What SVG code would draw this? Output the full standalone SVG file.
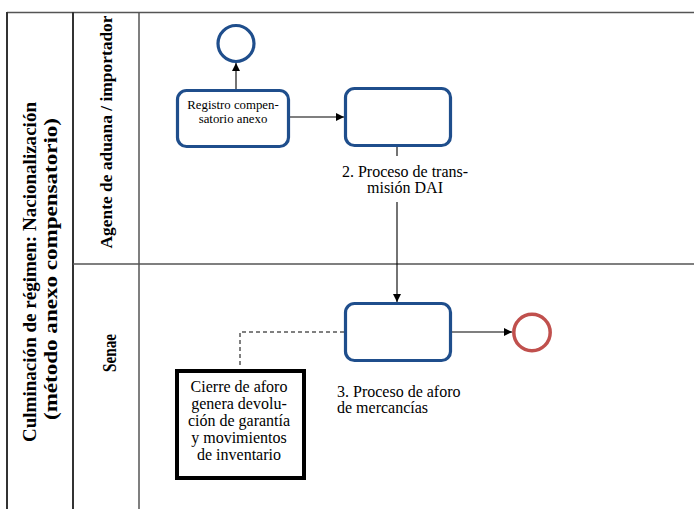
<svg xmlns="http://www.w3.org/2000/svg" width="694" height="509" viewBox="0 0 694 509">
<defs>
<style>
.frame{stroke:#555;stroke-width:1.5;fill:none}
.frameDark{stroke:#333;stroke-width:2;fill:none}
.task{fill:#fff;stroke:#1f4e8c;stroke-width:3.2}
.start{fill:#fff;stroke:#1f4e8c;stroke-width:3.2}
.end{fill:#fff;stroke:#c0504d;stroke-width:3.5}
.flow{stroke:#000;stroke-width:1.1;fill:none}
.dash{stroke:#000;stroke-width:1;fill:none;stroke-dasharray:4 3}
.note{fill:#fff;stroke:#000;stroke-width:4}
.t{font-family:"Liberation Serif","Times New Roman",serif;fill:#000}
.lane{font-family:"Liberation Serif","Times New Roman",serif;font-weight:bold;fill:#000}
</style>
<marker id="arr" viewBox="0 0 10 10" refX="10" refY="5" markerWidth="8" markerHeight="8" markerUnits="userSpaceOnUse" orient="auto">
<path d="M0,0 L10,5 L0,10 z" fill="#000"/>
</marker>
</defs>

<g id="pool">
<line class="frame" x1="7" y1="12.5" x2="694" y2="12.5"/>
<line class="frameDark" x1="7" y1="12" x2="7" y2="509"/>
<line class="frameDark" x1="73" y1="12" x2="73" y2="509"/>
<line class="frame" x1="139" y1="12" x2="139" y2="509"/>
<line class="frame" x1="73" y1="264" x2="694" y2="264"/>
<text class="lane" font-size="18.5" text-anchor="middle" transform="translate(36,272) rotate(-90)" textLength="340" lengthAdjust="spacingAndGlyphs">Culminación de régimen: Nacionalización</text>
<text class="lane" font-size="18.5" text-anchor="middle" transform="translate(57,269) rotate(-90)" textLength="302" lengthAdjust="spacingAndGlyphs">(método anexo compensatorio)</text>
</g>

<g id="lane-agente">
<text class="lane" font-size="17" text-anchor="middle" transform="translate(112,132) rotate(-90)" textLength="233" lengthAdjust="spacingAndGlyphs">Agente de aduana / importador</text>
</g>
<g id="lane-senae">
<text class="lane" font-size="18.5" text-anchor="middle" transform="translate(115.5,353) rotate(-90)" textLength="38" lengthAdjust="spacingAndGlyphs">Senae</text>
</g>

<g id="connectors">
<line class="flow" x1="236" y1="89" x2="236" y2="63" marker-end="url(#arr)"/>
<line class="flow" x1="290" y1="117" x2="344" y2="117" marker-end="url(#arr)"/>
<line class="flow" x1="397" y1="147" x2="397" y2="156"/>
<line class="flow" x1="397" y1="202" x2="397" y2="302" marker-end="url(#arr)"/>
<line class="flow" x1="452" y1="332" x2="512" y2="332" marker-end="url(#arr)"/>
<polyline class="dash" points="344,332 240,332 240,368"/>
</g>

<g id="start-event">
<circle class="start" cx="236" cy="43.5" r="18"/>
</g>

<g id="task-registro">
<rect class="task" x="177.5" y="90.5" width="111" height="56" rx="9"/>
<text class="t" font-size="12.8" text-anchor="middle" x="233" y="109">Registro compen-</text>
<text class="t" font-size="12.8" text-anchor="middle" x="233" y="123">satorio anexo</text>
</g>

<g id="task-transmision">
<rect class="task" x="345.5" y="88.5" width="105" height="57" rx="9"/>
<text class="t" font-size="16" text-anchor="middle" x="405" y="176.5">2. Proceso de trans-</text>
<text class="t" font-size="16" text-anchor="middle" x="405" y="193">misión DAI</text>
</g>

<g id="task-aforo">
<rect class="task" x="345.5" y="303.5" width="105" height="57" rx="9"/>
<text class="t" font-size="16" x="337" y="396.5">3. Proceso de aforo</text>
<text class="t" font-size="16" x="337" y="413">de mercancías</text>
</g>

<g id="end-event">
<circle class="end" cx="532" cy="332.5" r="18.2"/>
</g>

<g id="annotation">
<rect class="note" x="177" y="371" width="127" height="107"/>
<text class="t" font-size="16" text-anchor="middle" x="239" y="391.5">Cierre de aforo</text>
<text class="t" font-size="16" text-anchor="middle" x="239" y="408.7">genera devolu-</text>
<text class="t" font-size="16" text-anchor="middle" x="239" y="425.9">ción de garantía</text>
<text class="t" font-size="16" text-anchor="middle" x="239" y="443.1">y movimientos</text>
<text class="t" font-size="16" text-anchor="middle" x="239" y="460.3">de inventario</text>
</g>
</svg>
